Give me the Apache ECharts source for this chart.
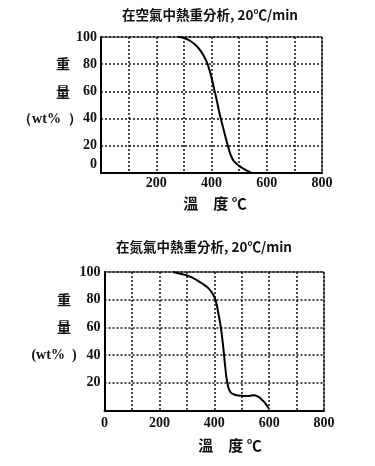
<!DOCTYPE html>
<html><head><meta charset="utf-8">
<script src="https://cdn.jsdelivr.net/npm/echarts@6/dist/echarts.min.js"></script>
<style>html,body{margin:0;padding:0;background:#fff}#c{width:375px;height:466px}</style>
</head><body><div id="c"></div>
<script>
// Data
const airTitle = '在空氣中熱重分析, 20℃/min';
const n2Title = '在氮氣中熱重分析, 20℃/min';
const xName = '溫　度 ℃';
const yName1 = '重';
const yName2 = '量';
const yName3Top = '（wt%  ）';
const yName3Bot = '(wt%  )';
const airTemp = [280, 300, 320, 340, 360, 380, 395, 410, 420, 430, 440, 450, 460, 470, 480, 490, 500, 515, 530, 545];
const airWt   = [100, 99.3, 97.5, 94.5, 90, 83, 74, 61.5, 52.5, 43, 35, 27, 19.5, 13, 9, 7, 5.2, 3.3, 1.5, 0];
const n2Temp = [250, 280, 300, 320, 348, 365, 380, 395, 405, 415, 424, 434, 440, 448, 458, 470, 482, 500, 519, 543, 560, 575, 586, 598];
const n2Wt   = [100, 98.5, 97.5, 96, 92.7, 90.5, 88, 84, 79.5, 70, 60, 43.5, 31.5, 19.6, 13.5, 11.8, 11, 10.6, 10.4, 11, 10, 7.5, 5.2, 1.6];
const xTicksTop = [200, 400, 600, 800];
const xTicksBot = [0, 200, 400, 600, 800];
const yTicksTop = [0, 20, 40, 60, 80, 100];
const yTicksBot = [20, 40, 60, 80, 100];

const NUM = '"Liberation Serif","DejaVu Serif",serif';
const CJK = '"Noto Sans CJK TC","Noto Sans CJK SC",sans-serif';
const chart = echarts.init(document.getElementById('c'));

function xAxis(gi, ticks, margin) {
  return {
    type: 'value', gridIndex: gi, min: 0, max: 800, interval: 100,
    axisLine: { show: true, lineStyle: { color: '#000', width: 2 } },
    axisTick: { show: false },
    axisLabel: {
      margin: margin, color: '#111', fontFamily: NUM, fontWeight: 'bold', fontSize: 14,
      formatter: v => ticks.includes(v) ? String(v) : ''
    },
    splitLine: { show: true, lineStyle: { color: '#111', width: 1.5, type: [2, 2] } }
  };
}
function yAxis(gi, ticks) {
  return {
    type: 'value', gridIndex: gi, min: 0, max: 100, interval: 20,
    axisLine: { show: true, lineStyle: { color: '#000', width: 2 } },
    axisTick: { show: false },
    axisLabel: {
      margin: 4, color: '#111', fontFamily: NUM, fontWeight: 'bold', fontSize: 14,
      formatter: v => ticks.includes(v) ? (v === 0 ? '{z|0}' : String(v)) : '',
      rich: { z: { fontFamily: NUM, fontWeight: 'bold', fontSize: 14, color: '#111', padding: [0, 0, 17, 0] } }
    },
    splitLine: { show: true, lineStyle: { color: '#111', width: 1.5, type: [2, 2] } }
  };
}
function txt(x, y, s, font, size, align) {
  return { type: 'text', x: x, y: y, style: { text: s, fontFamily: font, fontSize: size, fontWeight: 'bold', fill: '#111', align: align || 'center', verticalAlign: 'middle' } };
}

chart.setOption({
  animation: false,
  backgroundColor: '#fff',
  title: [
    { text: airTitle, left: 205, top: 3, textAlign: 'center', textStyle: { fontFamily: CJK, fontSize: 13.5, fontWeight: 'bold', color: '#111' } },
    { text: n2Title, left: 199, top: 235, textAlign: 'center', textStyle: { fontFamily: CJK, fontSize: 13.5, fontWeight: 'bold', color: '#111' } }
  ],
  grid: [
    { left: 101, top: 37, width: 221, height: 136, show: true, borderColor: '#000', borderWidth: 1, backgroundColor: '#fff' },
    { left: 104.5, top: 272, width: 219.5, height: 138.5, show: true, borderColor: '#000', borderWidth: 1, backgroundColor: '#fff' }
  ],
  xAxis: [xAxis(0, xTicksTop, 3), xAxis(1, xTicksBot, 6)],
  yAxis: [yAxis(0, yTicksTop), yAxis(1, yTicksBot)],
  series: [
    { type: 'line', xAxisIndex: 0, yAxisIndex: 0, data: airTemp.map((t, i) => [t, airWt[i]]), smooth: true, symbol: 'none', lineStyle: { color: '#000', width: 2 } },
    { type: 'line', xAxisIndex: 1, yAxisIndex: 1, data: n2Temp.map((t, i) => [t, n2Wt[i]]), smooth: true, symbol: 'none', lineStyle: { color: '#000', width: 2 } }
  ],
  graphic: [
    txt(63, 64, yName1, CJK, 14),
    txt(63, 92, yName2, CJK, 14),
    txt(50, 119, yName3Top, NUM, 14),
    txt(64, 300, yName1, CJK, 14),
    txt(64, 327, yName2, CJK, 14),
    txt(54, 355, yName3Bot, NUM, 14),
    txt(215, 203, xName, CJK, 15),
    txt(230, 445, xName, CJK, 15)
  ]
});
</script></body></html>
